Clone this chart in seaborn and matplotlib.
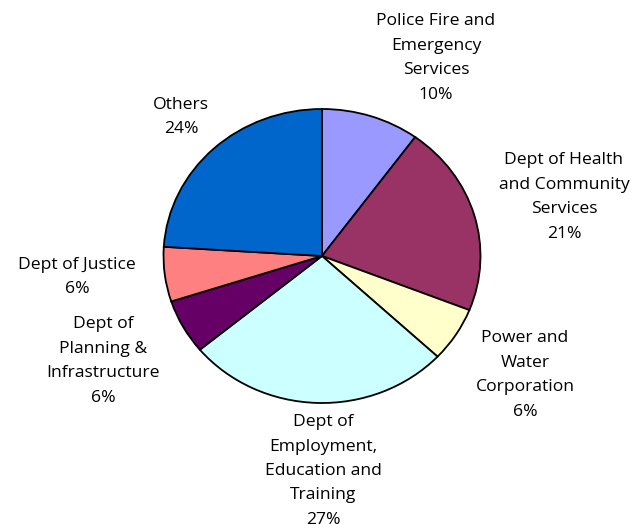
import matplotlib
matplotlib.use("Agg")
import matplotlib.pyplot as plt
import seaborn as sns

# Budget share by agency, clockwise from 12 o'clock
agencies = [
    "Police Fire and\nEmergency\nServices",
    "Dept of Health\nand Community\nServices",
    "Power and\nWater\nCorporation",
    "Dept of\nEmployment,\nEducation and\nTraining",
    "Dept of\nPlanning &\nInfrastructure",
    "Dept of Justice",
    "Others",
]
shares = [10, 21, 6, 27, 6, 6, 24]
colors = ["#9999FF", "#993366", "#FFFFCC", "#CCFFFF", "#660066", "#FF8080", "#0066CC"]

# Label anchor points in figure pixels (x from left, y from top)
label_px = [
    (436, 58), (564, 197), (525, 375), (323, 471),
    (103, 361), (77, 277), (181, 117),
]

sns.set_theme(style="white")
plt.rcParams["font.family"] = ["Open Sans", "DejaVu Sans"]

W, H = 635, 524
fig = plt.figure(figsize=(W / 100, H / 100), dpi=100)
fig.patch.set_facecolor("white")

cx, cy, rx, ry = 322, 256, 158.5, 147
ax = fig.add_axes([(cx - rx) / W, (H - cy - ry) / H, 2 * rx / W, 2 * ry / H])
ax.pie(
    shares,
    colors=colors,
    startangle=90,
    counterclock=False,
    wedgeprops=dict(edgecolor="black", linewidth=1.3),
)
ax.set_aspect("auto")
ax.set_xlim(-1.0, 1.0)
ax.set_ylim(-1.0, 1.0)
ax.set_axis_off()

for name, val, (px, py) in zip(agencies, shares, label_px):
    fig.text(px / W, 1 - py / H, f"{name}\n{val}%", ha="center", va="center",
             fontsize=12.6, color="black", linespacing=1.7)

fig.savefig("out.png", dpi=100, facecolor="white")
